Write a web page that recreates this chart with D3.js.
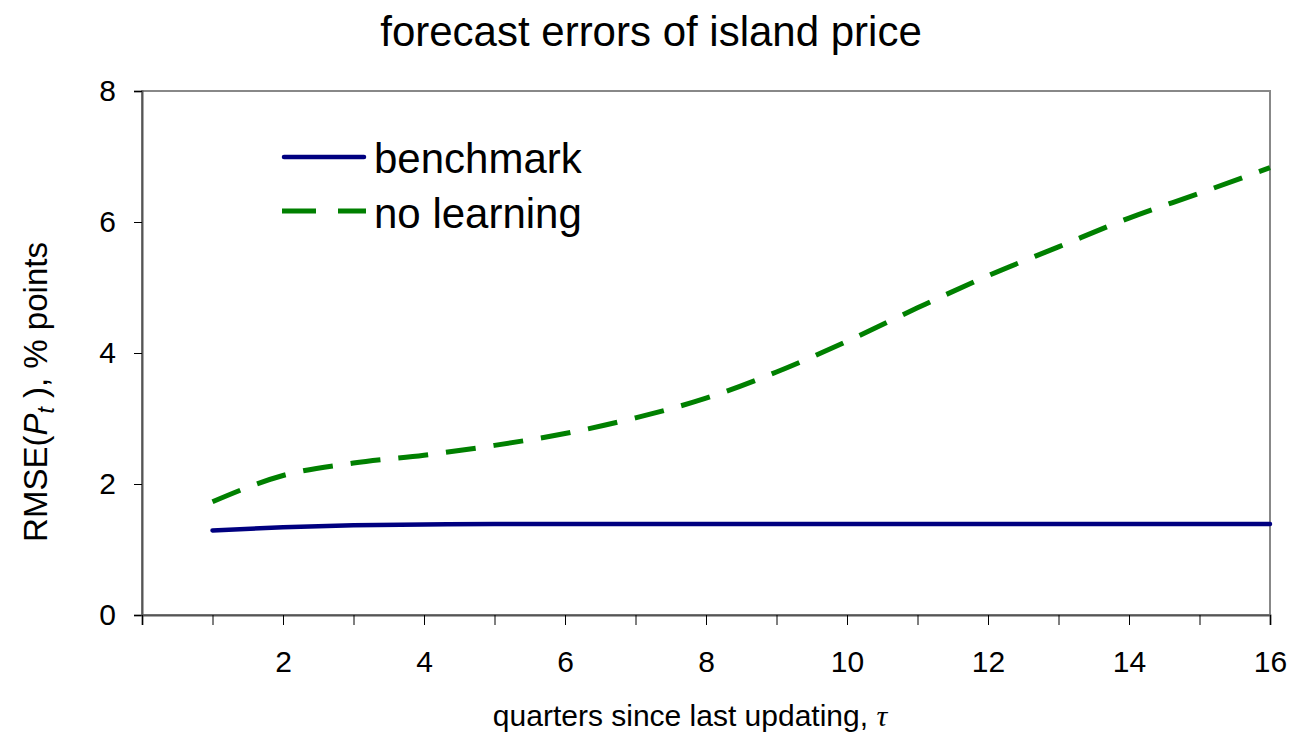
<!DOCTYPE html>
<html><head><meta charset="utf-8">
<script src="https://cdn.jsdelivr.net/npm/d3@7"></script>
<style>body{margin:0;background:#fff;} text{font-family:"Liberation Sans",Arial,sans-serif;}</style>
</head><body>
<svg id="c" width="1293" height="739"></svg>
<script>
const quarters = [1,2,3,4,5,6,7,8,9,10,11,12,13,14,15,16];
const benchmark = [1.29,1.34,1.37,1.38,1.39,1.39,1.39,1.39,1.39,1.39,1.39,1.39,1.39,1.39,1.39,1.39];
const noLearning = [1.73,2.13,2.32,2.44,2.59,2.77,3.01,3.31,3.71,4.18,4.69,5.18,5.62,6.06,6.44,6.83];
const xTickLabels = [2,4,6,8,10,12,14,16];
const yTickLabels = [0,2,4,6,8];
const seriesNames = ["benchmark","no learning"];

const svg = d3.select("#c");
const L=142,R=1270,T=91,B=615;
const x = d3.scaleLinear().domain([0,16]).range([L,R]);
const y = d3.scaleLinear().domain([0,8]).range([B,T]);

svg.append("text").attr("x",651).attr("y",46).attr("text-anchor","middle")
  .attr("font-size",42).text("forecast errors of island price");

// frame
svg.append("rect").attr("x",L).attr("y",T).attr("width",R-L).attr("height",B-T)
  .attr("fill","none").attr("stroke","#888").attr("stroke-width",2);

// y axis
const ya = svg.append("g").attr("transform",`translate(${L},0)`)
  .call(d3.axisLeft(y).tickValues(yTickLabels).tickSize(8).tickPadding(18).tickFormat(d3.format("d")));
ya.select(".domain").attr("stroke","#555").attr("stroke-width",2);
ya.selectAll(".tick line").attr("stroke","#000");
ya.selectAll("text").attr("font-size",30).attr("font-family","Liberation Sans, Arial").attr("fill","#000");

// x axis
const xa = svg.append("g").attr("transform",`translate(0,${B})`)
  .call(d3.axisBottom(x).tickValues(d3.range(0,17)).tickSize(10).tickPadding(26)
    .tickFormat(d => xTickLabels.includes(d) ? d : ""));
xa.select(".domain").attr("stroke","#555").attr("stroke-width",2);
xa.selectAll(".tick line").attr("stroke","#000");
xa.selectAll("text").attr("font-size",30).attr("font-family","Liberation Sans, Arial").attr("fill","#000");

// labels
svg.append("text").attr("x",690).attr("y",726).attr("text-anchor","middle").attr("font-size",30)
  .html('quarters since last updating, <tspan font-family="Liberation Serif, serif" font-style="italic">τ</tspan>');
svg.append("text").attr("transform","translate(47,392) rotate(-90)").attr("text-anchor","middle").attr("font-size",33)
  .html('RMSE(<tspan font-style="italic">P</tspan><tspan font-style="italic" font-size="23" dy="7">t</tspan><tspan dy="-7"> ), % points</tspan>');

const line = d3.line().x((d,i)=>x(quarters[i])).y(d=>y(d)).curve(d3.curveMonotoneX);
svg.append("path").datum(benchmark).attr("d",line).attr("fill","none")
  .attr("stroke","#000080").attr("stroke-width",4.5).attr("stroke-linecap","round");
svg.append("path").datum(noLearning).attr("d",line).attr("fill","none")
  .attr("stroke","#008000").attr("stroke-width",5).attr("stroke-dasharray","30,18");

// legend
const lg = svg.append("g");
lg.append("line").attr("x1",284).attr("x2",364).attr("y1",157).attr("y2",157)
  .attr("stroke","#000080").attr("stroke-width",4.5).attr("stroke-linecap","round");
lg.append("line").attr("x1",282).attr("x2",366).attr("y1",211).attr("y2",211)
  .attr("stroke","#008000").attr("stroke-width",5).attr("stroke-dasharray","34,22");
lg.append("text").attr("x",374).attr("y",173).attr("font-size",42).text(seriesNames[0]);
lg.append("text").attr("x",374).attr("y",228).attr("font-size",42).text(seriesNames[1]);
</script>
</body></html>
